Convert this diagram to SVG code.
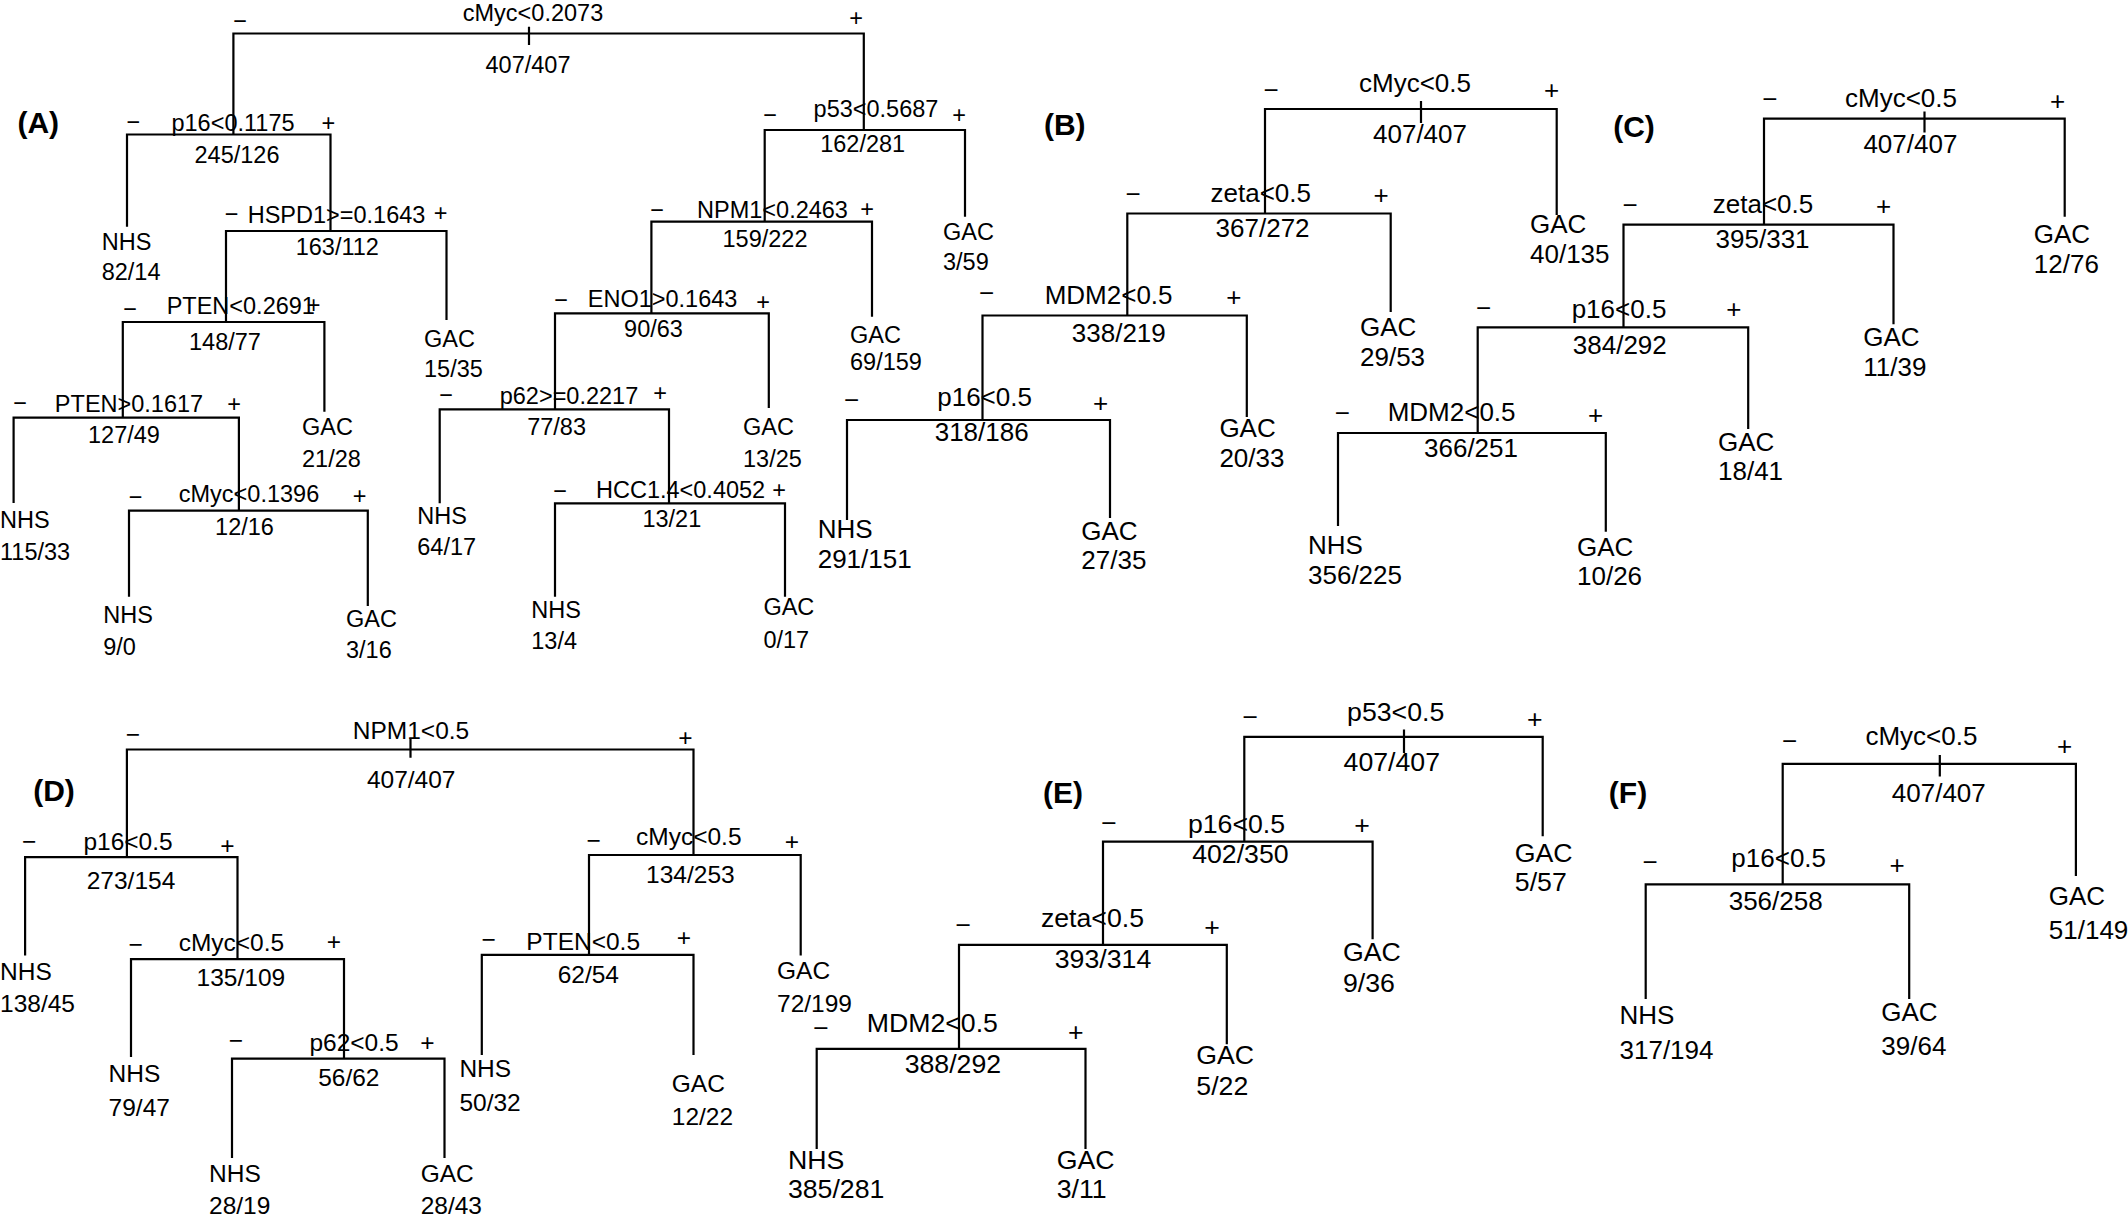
<svg xmlns="http://www.w3.org/2000/svg" width="2128" height="1217" viewBox="0 0 2128 1217">
<style>
text{font-family:"Liberation Sans",Arial,sans-serif;fill:#000}
.m{text-anchor:middle}
.fa{font-size:23.5px}.fb{font-size:26px}.fc{font-size:26px}.fd{font-size:24.5px}.fe{font-size:26.7px}.ff{font-size:26px}
.p{font-size:30px;font-weight:bold;text-anchor:middle}
.c path{fill:none;stroke:#000;stroke-width:2.2}
</style>
<rect width="2128" height="1217" fill="#fff"/>
<g class="c" id="connectors">
<path d="M233.4,134.5V33.5H863.8V130M529,26.7V45"/>
<path d="M127,226.7V134.5H330.5V231"/>
<path d="M226,322V231H446.5V320"/>
<path d="M122.8,417.7V322H324.4V411.7"/>
<path d="M13.6,503V417.7H238.9V510.7"/>
<path d="M129,596.7V510.7H367.8V606"/>
<path d="M764.7,221.7V130H965V216.7"/>
<path d="M651.4,313.3V221.7H872V316.7"/>
<path d="M555,409.3V313.3H768.8V408"/>
<path d="M439.7,503.3V409.3H669V503.3"/>
<path d="M555,596.7V503.3H785V596.7"/>
<path d="M1265,213.5V109H1556.7V215M1421,101V123"/>
<path d="M1127.3,315.5V213.5H1390.7V312"/>
<path d="M982.5,420V315.5H1246.8V417"/>
<path d="M847,520V420H1110V518"/>
<path d="M1764,224.6V118.6H2064.7V216.7M1924.5,111.5V132.5"/>
<path d="M1623.5,327.4V224.6H1893.5V324.2"/>
<path d="M1477.7,433V327.4H1748.2V429"/>
<path d="M1338,526V433H1605.8V531.8"/>
<path d="M126.9,857.2V749.5H693.5V855M410.5,738.6V757.8"/>
<path d="M25.1,955.6V857.2H237.5V959.2"/>
<path d="M131,1056.9V959.2H344V1058.7"/>
<path d="M232,1158V1058.7H444.5V1158"/>
<path d="M589,954.9V855H800.7V955.6"/>
<path d="M481.8,1055V954.9H693.5V1055"/>
<path d="M1244.3,841.7V736.8H1542.7V836.3M1404,729.6V753"/>
<path d="M1103,944.8V841.7H1372.6V939.3"/>
<path d="M959,1048.9V944.8H1226.8V1044.2"/>
<path d="M816.7,1149V1048.9H1085.5V1149"/>
<path d="M1782.7,884.4V763.9H2075.9V876M1939.8,754.9V776.6"/>
<path d="M1645.7,999V884.4H1909.2V999"/>
</g>
<g id="panel-labels">
<text class="p" x="38.3" y="133">(A)</text>
<text class="p" x="1064.8" y="135">(B)</text>
<text class="p" x="1634" y="137">(C)</text>
<text class="p" x="54" y="801">(D)</text>
<text class="p" x="1063" y="803">(E)</text>
<text class="p" x="1628" y="803">(F)</text>
</g>
<!-- Panel A -->
<g id="A-root" class="fa">
<text class="m" x="533" y="21">cMyc&lt;0.2073</text><text class="m" x="528" y="73">407/407</text>
<text class="m" x="240" y="29">−</text><text class="m" x="856" y="26">+</text></g>
<g id="A-p16" class="fa">
<text class="m" x="233" y="130.7">p16&lt;0.1175</text><text class="m" x="237" y="163">245/126</text>
<text class="m" x="133.3" y="130">−</text><text class="m" x="328.3" y="131">+</text></g>
<g id="A-leaf1" class="fa"><text x="101.7" y="250">NHS</text><text x="101.7" y="279.5">82/14</text></g>
<g id="A-hspd1" class="fa">
<text class="m" x="336.5" y="222.7">HSPD1&gt;=0.1643</text><text class="m" x="337.3" y="255">163/112</text>
<text class="m" x="231.5" y="221.5">−</text><text class="m" x="440.5" y="221">+</text></g>
<g id="A-leaf2" class="fa"><text x="424" y="346.7">GAC</text><text x="424" y="376.7">15/35</text></g>
<g id="A-pten1" class="fa">
<text class="m" x="240.8" y="313.5">PTEN&lt;0.2691</text><text class="m" x="225" y="350">148/77</text>
<text class="m" x="130" y="317">−</text><text class="m" x="313.5" y="313">+</text></g>
<g id="A-leaf3" class="fa"><text x="302" y="435">GAC</text><text x="302" y="466.7">21/28</text></g>
<g id="A-pten2" class="fa">
<text class="m" x="129" y="411.7">PTEN&gt;0.1617</text><text class="m" x="124" y="443">127/49</text>
<text class="m" x="20" y="411">−</text><text class="m" x="234" y="412">+</text></g>
<g id="A-leaf4" class="fa"><text x="0" y="528.3">NHS</text><text x="0" y="560">115/33</text></g>
<g id="A-cmyc2" class="fa">
<text class="m" x="249" y="501.7">cMyc&lt;0.1396</text><text class="m" x="244.5" y="535">12/16</text>
<text class="m" x="135.7" y="505">−</text><text class="m" x="359.6" y="504">+</text></g>
<g id="A-leaf5" class="fa"><text x="103.2" y="623.3">NHS</text><text x="103.2" y="655">9/0</text></g>
<g id="A-leaf6" class="fa"><text x="346" y="626.7">GAC</text><text x="346" y="658.3">3/16</text></g>
<g id="A-p53" class="fa">
<text class="m" x="876" y="117">p53&lt;0.5687</text><text class="m" x="862.7" y="151.7">162/281</text>
<text class="m" x="770" y="123">−</text><text class="m" x="959" y="123">+</text></g>
<g id="A-leaf7" class="fa"><text x="943" y="240">GAC</text><text x="943" y="270">3/59</text></g>
<g id="A-npm1" class="fa">
<text class="m" x="772.5" y="217.5">NPM1&lt;0.2463</text><text class="m" x="765" y="246.7">159/222</text>
<text class="m" x="657" y="218">−</text><text class="m" x="867" y="217">+</text></g>
<g id="A-leaf8" class="fa"><text x="850" y="343">GAC</text><text x="850" y="370">69/159</text></g>
<g id="A-eno1" class="fa">
<text class="m" x="662.6" y="306.7">ENO1&gt;0.1643</text><text class="m" x="653.5" y="336.7">90/63</text>
<text class="m" x="561" y="308">−</text><text class="m" x="763" y="310">+</text></g>
<g id="A-leaf9" class="fa"><text x="743" y="435">GAC</text><text x="743" y="466.7">13/25</text></g>
<g id="A-p62" class="fa">
<text class="m" x="569" y="404">p62&gt;=0.2217</text><text class="m" x="556.6" y="435">77/83</text>
<text class="m" x="446" y="403">−</text><text class="m" x="660" y="401">+</text></g>
<g id="A-leaf10" class="fa"><text x="417.3" y="524">NHS</text><text x="417.3" y="555">64/17</text></g>
<g id="A-hcc" class="fa">
<text class="m" x="680.6" y="498.3">HCC1.4&lt;0.4052</text><text class="m" x="671.8" y="526.7">13/21</text>
<text class="m" x="560" y="499">−</text><text class="m" x="779" y="498">+</text></g>
<g id="A-leaf11" class="fa"><text x="531.3" y="618.3">NHS</text><text x="531.3" y="649.3">13/4</text></g>
<g id="A-leaf12" class="fa"><text x="763.4" y="615">GAC</text><text x="763.4" y="648.3">0/17</text></g>
<!-- Panel B -->
<g id="B-root" class="fb">
<text class="m" x="1415" y="91.7">cMyc&lt;0.5</text><text class="m" x="1420" y="143.3">407/407</text>
<text class="m" x="1271" y="99">−</text><text class="m" x="1551.7" y="99">+</text></g>
<g id="B-leaf1" class="fb"><text x="1530" y="233.3">GAC</text><text x="1530" y="263">40/135</text></g>
<g id="B-zeta" class="fb">
<text class="m" x="1260.8" y="202">zeta&lt;0.5</text><text class="m" x="1262.6" y="237">367/272</text>
<text class="m" x="1133" y="203">−</text><text class="m" x="1381" y="204">+</text></g>
<g id="B-leaf2" class="fb"><text x="1360" y="336">GAC</text><text x="1360" y="365.8">29/53</text></g>
<g id="B-mdm2" class="fb">
<text class="m" x="1108.6" y="304">MDM2&lt;0.5</text><text class="m" x="1118.8" y="342">338/219</text>
<text class="m" x="986.6" y="302">−</text><text class="m" x="1233.8" y="305.7">+</text></g>
<g id="B-leaf3" class="fb"><text x="1219.4" y="437">GAC</text><text x="1219.4" y="466.6">20/33</text></g>
<g id="B-p16" class="fb">
<text class="m" x="984.6" y="406">p16&lt;0.5</text><text class="m" x="981.7" y="440.7">318/186</text>
<text class="m" x="851.6" y="409">−</text><text class="m" x="1100.7" y="411.6">+</text></g>
<g id="B-leaf4" class="fb"><text x="817.7" y="538.3">NHS</text><text x="817.7" y="568.3">291/151</text></g>
<g id="B-leaf5" class="fb"><text x="1081.3" y="539.7">GAC</text><text x="1081.3" y="569.4">27/35</text></g>
<!-- Panel C -->
<g id="C-root" class="fc">
<text class="m" x="1901" y="106.5">cMyc&lt;0.5</text><text class="m" x="1910.4" y="153.4">407/407</text>
<text class="m" x="1769.8" y="108">−</text><text class="m" x="2057.5" y="110">+</text></g>
<g id="C-leaf1" class="fc"><text x="2033.8" y="243.2">GAC</text><text x="2033.8" y="272.8">12/76</text></g>
<g id="C-zeta" class="fc">
<text class="m" x="1763" y="213">zeta&lt;0.5</text><text class="m" x="1762.6" y="248.3">395/331</text>
<text class="m" x="1630" y="213.6">−</text><text class="m" x="1883.5" y="214.7">+</text></g>
<g id="C-leaf2" class="fc"><text x="1863.3" y="346">GAC</text><text x="1863.3" y="375.6">11/39</text></g>
<g id="C-p16" class="fc">
<text class="m" x="1619" y="318">p16&lt;0.5</text><text class="m" x="1619.8" y="353.9">384/292</text>
<text class="m" x="1483.5" y="316.7">−</text><text class="m" x="1733.8" y="318.3">+</text></g>
<g id="C-leaf3" class="fc"><text x="1718" y="450.8">GAC</text><text x="1718" y="480.4">18/41</text></g>
<g id="C-mdm2" class="fc">
<text class="m" x="1451.6" y="421">MDM2&lt;0.5</text><text class="m" x="1471" y="456.7">366/251</text>
<text class="m" x="1342.4" y="422">−</text><text class="m" x="1595.7" y="424.3">+</text></g>
<g id="C-leaf4" class="fc"><text x="1308" y="553.6">NHS</text><text x="1308" y="584.4">356/225</text></g>
<g id="C-leaf5" class="fc"><text x="1577" y="555.5">GAC</text><text x="1577" y="585.2">10/26</text></g>
<!-- Panel D -->
<g id="D-root" class="fd">
<text class="m" x="411" y="738.6">NPM1&lt;0.5</text><text class="m" x="411.2" y="788.2">407/407</text>
<text class="m" x="133" y="742.6">−</text><text class="m" x="685.3" y="746">+</text></g>
<g id="D-p16" class="fd">
<text class="m" x="128" y="849.6">p16&lt;0.5</text><text class="m" x="131" y="889.4">273/154</text>
<text class="m" x="29.2" y="850.3">−</text><text class="m" x="227.3" y="854">+</text></g>
<g id="D-leaf1" class="fd"><text x="0" y="979.8">NHS</text><text x="0" y="1012.4">138/45</text></g>
<g id="D-cmycL" class="fd">
<text class="m" x="231.4" y="950.9">cMyc&lt;0.5</text><text class="m" x="240.9" y="986.3">135/109</text>
<text class="m" x="135.7" y="953.4">−</text><text class="m" x="333.9" y="949.7">+</text></g>
<g id="D-leaf2" class="fd"><text x="108.6" y="1082.2">NHS</text><text x="108.6" y="1115.8">79/47</text></g>
<g id="D-p62" class="fd">
<text class="m" x="354" y="1051.4">p62&lt;0.5</text><text class="m" x="348.8" y="1085.8">56/62</text>
<text class="m" x="236" y="1048.5">−</text><text class="m" x="427.5" y="1051">+</text></g>
<g id="D-leaf3" class="fd"><text x="209" y="1181.6">NHS</text><text x="209" y="1214.2">28/19</text></g>
<g id="D-leaf4" class="fd"><text x="420.7" y="1181.6">GAC</text><text x="420.7" y="1214.2">28/43</text></g>
<g id="D-cmycR" class="fd">
<text class="m" x="688.8" y="845.3">cMyc&lt;0.5</text><text class="m" x="690.4" y="883.3">134/253</text>
<text class="m" x="593.7" y="848.5">−</text><text class="m" x="791.9" y="850.3">+</text></g>
<g id="D-leaf5" class="fd"><text x="777" y="979.1">GAC</text><text x="777" y="1011.7">72/199</text></g>
<g id="D-pten" class="fd">
<text class="m" x="583.2" y="949.5">PTEN&lt;0.5</text><text class="m" x="588.3" y="982.7">62/54</text>
<text class="m" x="488.6" y="948">−</text><text class="m" x="684" y="946">+</text></g>
<g id="D-leaf6" class="fd"><text x="459.4" y="1076.8">NHS</text><text x="459.4" y="1111">50/32</text></g>
<g id="D-leaf7" class="fd"><text x="671.8" y="1092">GAC</text><text x="671.8" y="1124.5">12/22</text></g>
<!-- Panel E -->
<g id="E-root" class="fe">
<text class="m" x="1395.7" y="720.5">p53&lt;0.5</text><text class="m" x="1391.8" y="771.2">407/407</text>
<text class="m" x="1250.4" y="726.3">−</text><text class="m" x="1534.9" y="728">+</text></g>
<g id="E-leaf1" class="fe"><text x="1514.8" y="861.6">GAC</text><text x="1514.8" y="890.5">5/57</text></g>
<g id="E-p16" class="fe">
<text class="m" x="1236.5" y="832.6">p16&lt;0.5</text><text class="m" x="1240.4" y="863.4">402/350</text>
<text class="m" x="1109" y="832.2">−</text><text class="m" x="1362" y="833.6">+</text></g>
<g id="E-leaf2" class="fe"><text x="1342.9" y="961">GAC</text><text x="1342.9" y="991.8">9/36</text></g>
<g id="E-zeta" class="fe">
<text class="m" x="1092.5" y="926.7">zeta&lt;0.5</text><text class="m" x="1103" y="968.3">393/314</text>
<text class="m" x="963.3" y="934.2">−</text><text class="m" x="1212" y="936">+</text></g>
<g id="E-leaf3" class="fe"><text x="1196.3" y="1064">GAC</text><text x="1196.3" y="1094.8">5/22</text></g>
<g id="E-mdm2" class="fe">
<text class="m" x="932.3" y="1031.5">MDM2&lt;0.5</text><text class="m" x="952.9" y="1073">388/292</text>
<text class="m" x="821" y="1037.3">−</text><text class="m" x="1075.9" y="1040.8">+</text></g>
<g id="E-leaf4" class="fe"><text x="787.9" y="1169">NHS</text><text x="787.9" y="1197.8">385/281</text></g>
<g id="E-leaf5" class="fe"><text x="1056.7" y="1169">GAC</text><text x="1056.7" y="1197.8">3/11</text></g>
<!-- Panel F -->
<g id="F-root" class="ff">
<text class="m" x="1921.4" y="744.8">cMyc&lt;0.5</text><text class="m" x="1938.8" y="801.9">407/407</text>
<text class="m" x="1789.7" y="749.5">−</text><text class="m" x="2064.5" y="755">+</text></g>
<g id="F-leaf1" class="ff"><text x="2048.8" y="905">GAC</text><text x="2048.8" y="939.3">51/149</text></g>
<g id="F-p16" class="ff">
<text class="m" x="1778.7" y="867">p16&lt;0.5</text><text class="m" x="1775.7" y="909.7">356/258</text>
<text class="m" x="1650" y="870.7">−</text><text class="m" x="1897" y="874.3">+</text></g>
<g id="F-leaf2" class="ff"><text x="1619.5" y="1024.3">NHS</text><text x="1619.5" y="1058.7">317/194</text></g>
<g id="F-leaf3" class="ff"><text x="1881.3" y="1020.7">GAC</text><text x="1881.3" y="1055">39/64</text></g>
</svg>
